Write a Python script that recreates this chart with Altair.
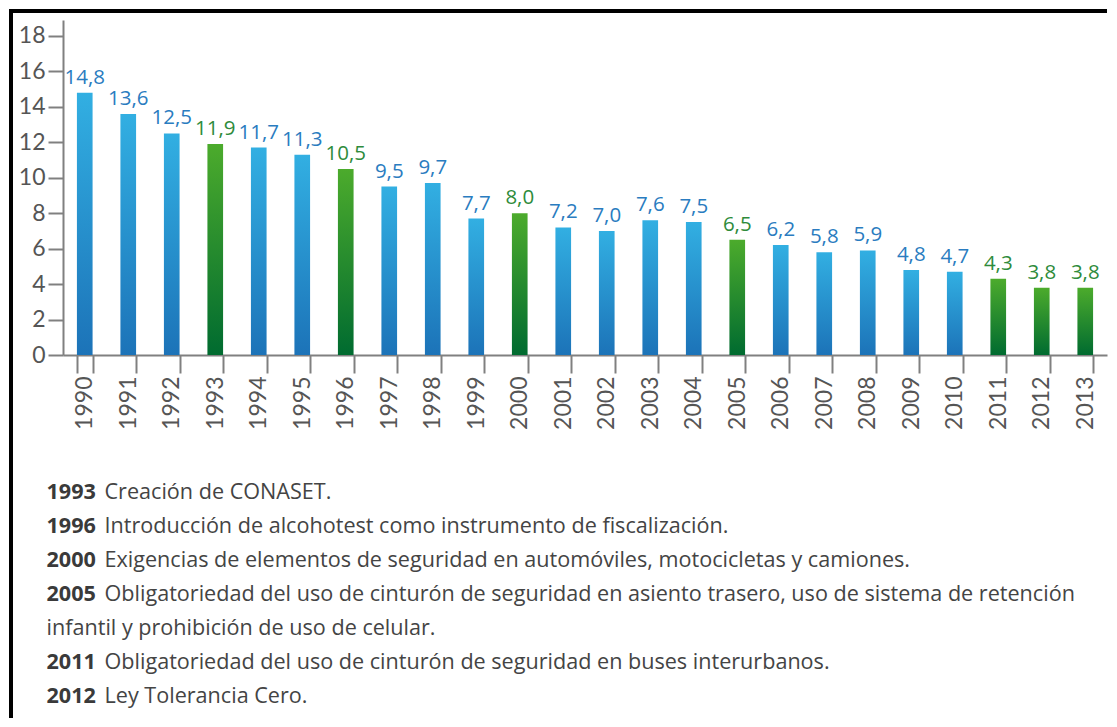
import altair as alt
import pandas as pd

years = [str(y) for y in range(1990, 2014)]
values = [14.8, 13.6, 12.5, 11.9, 11.7, 11.3, 10.5, 9.5, 9.7, 7.7, 8.0, 7.2,
          7.0, 7.6, 7.5, 6.5, 6.2, 5.8, 5.9, 4.8, 4.7, 4.3, 3.8, 3.8]
milestones = ["1993", "1996", "2000", "2005", "2011", "2012", "2013"]
labels = [f"{v:.1f}".replace(".", ",") for v in values]

note_years = ["1993", "1996", "2000", "2005", "", "2011", "2012"]
note_texts = [
    "Creación de CONASET.",
    "Introducción de alcohotest como instrumento de fiscalización.",
    "Exigencias de elementos de seguridad en automóviles, motocicletas y camiones.",
    "Obligatoriedad del uso de cinturón de seguridad en asiento trasero, uso de sistema de retención",
    "infantil y prohibición de uso de celular.",
    "Obligatoriedad del uso de cinturón de seguridad en buses interurbanos.",
    "Ley Tolerancia Cero.",
]

df = pd.DataFrame({
    "year": years,
    "value": values,
    "label": labels,
    "group": ["g" if y in milestones else "b" for y in years],
})
notes = pd.DataFrame({
    "line": list(range(len(note_texts))),
    "year": note_years,
    "text": note_texts,
})

AXIS_COLOR = "#808080"
LABEL_COLOR = "#555555"

blue_grad = {"gradient": "linear", "x1": 0, "y1": 0, "x2": 0, "y2": 1,
             "stops": [{"offset": 0, "color": "#32afe2"},
                       {"offset": 1, "color": "#1c73b8"}]}
green_grad = {"gradient": "linear", "x1": 0, "y1": 0, "x2": 0, "y2": 1,
              "stops": [{"offset": 0, "color": "#4cab2c"},
                        {"offset": 1, "color": "#006b30"}]}

xaxis = alt.Axis(labelAngle=-90, labelFont="Lato", labelFontSize=23,
                 labelColor=LABEL_COLOR, tickBand="extent", tickSize=18,
                 tickColor=AXIS_COLOR, tickWidth=2, domainColor=AXIS_COLOR,
                 domainWidth=2, labelPadding=3, labelBaseline="middle")
xenc = alt.X("year:N", sort=years, title=None,
             scale=alt.Scale(paddingInner=0.64, paddingOuter=0.32), axis=xaxis)
yscale = alt.Scale(domain=[0, 18.9], nice=False)
yaxis = alt.Axis(values=list(range(0, 19, 2)), labelFont="Lato",
                 labelFontSize=23, labelColor=LABEL_COLOR, tickSize=15,
                 tickColor=AXIS_COLOR, tickWidth=2, domainColor=AXIS_COLOR,
                 domainWidth=2, labelPadding=3, grid=False)
yenc = alt.Y("value:Q", title=None, scale=yscale, axis=yaxis)

base = alt.Chart(df)
bars_b = base.transform_filter(alt.datum.group == "b").mark_bar(color=blue_grad).encode(x=xenc, y=yenc)
bars_g = base.transform_filter(alt.datum.group == "g").mark_bar(color=green_grad).encode(x=xenc, y=yenc)
vals = base.mark_text(font="Open Sans", fontSize=20.5, baseline="alphabetic", dy=-9).encode(
    x=xenc,
    y=yenc,
    text="label:N",
    color=alt.Color("group:N", scale=alt.Scale(domain=["b", "g"], range=["#2a7cc0", "#2e8b3b"]), legend=None),
)
chart_part = alt.layer(bars_b, bars_g, vals)

frame_top = alt.Chart(df).mark_rule(color="#000000", strokeWidth=3).encode(
    x=alt.value(-53.5), x2=alt.value(1044), y=alt.value(-9))
frame_left = alt.Chart(df).mark_rule(color="#000000", strokeWidth=3).encode(
    x=alt.value(-52), y=alt.value(-10.5), y2=alt.value(698))

ynote = alt.Y("line:Q", scale=alt.Scale(domain=[0, 6], range=[472.5, 676.5]), axis=None)
note_base = alt.Chart(notes)
FONT = "Open Sans"
FS = 21.6
note_year = note_base.transform_filter(alt.datum.year != "").mark_text(
    font=FONT, fontSize=FS, fontWeight="bold", align="left", baseline="middle",
    color="#3a3a3a").encode(x=alt.value(-16.5), y=ynote, text="year:N")
note_desc = note_base.transform_filter(alt.datum.year != "").mark_text(
    font=FONT, fontSize=FS, align="left", baseline="middle",
    color="#444444").encode(x=alt.value(41.5), y=ynote, text="text:N")
note_cont = note_base.transform_filter(alt.datum.year == "").mark_text(
    font=FONT, fontSize=FS, align="left", baseline="middle",
    color="#444444").encode(x=alt.value(-16.5), y=ynote, text="text:N")

chart = alt.layer(
    chart_part, frame_top, frame_left, note_year, note_desc, note_cont
).resolve_scale(y="independent").properties(
    width=1044, height=335, background="#ffffff",
    padding={"left": 0, "top": 0, "right": 0, "bottom": 0}
).configure_view(strokeWidth=0, stroke="transparent")

chart.save("out.html", embed_options={"renderer": "svg", "actions": False})
